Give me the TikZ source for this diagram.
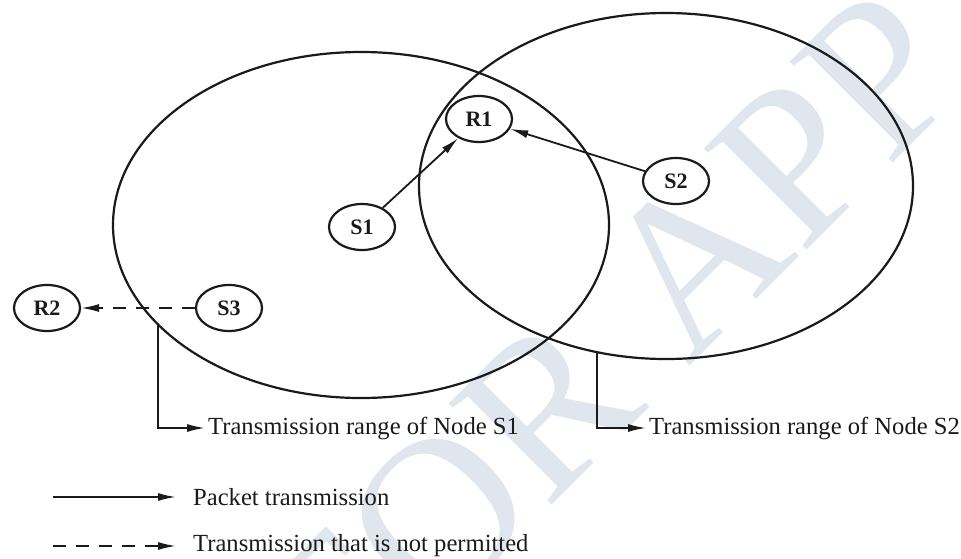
\documentclass[tikz,border=0pt]{standalone}
\usepackage{fontspec}
\setmainfont{Liberation Serif}
\usetikzlibrary{arrows.meta,shapes.geometric}
\definecolor{ink}{HTML}{1A1A1A}
\definecolor{wmark}{HTML}{E0E6ED}
\tikzset{
  rangeline/.style={draw=ink, line width=2.2pt},
  host/.style={ellipse, draw=ink, line width=2.2pt, minimum width=66pt, minimum height=46pt,
    inner sep=0pt, font=\fontsize{22}{22}\selectfont\bfseries, text=ink},
  tip/.style={-{Latex[length=18pt,width=8pt]}},
  pkt/.style={draw=ink, line width=1.8pt, tip},
  noperm/.style={draw=ink, line width=1.8pt, tip, dash pattern=on 13pt off 10pt},
  caption/.style={anchor=west, inner sep=0pt, text=ink, font=\fontsize{24.6}{24.6}\selectfont}
}
\begin{document}
\begin{tikzpicture}[x=1pt,y=-1pt]
\useasboundingbox (0,0) rectangle (961,558);
\fill[white] (0,0) rectangle (961,558);

% faint watermark across the sheet
\node[rotate=45, text=wmark, font=\fontsize{220}{220}\selectfont, inner sep=0pt] (wm) at (610,345) {FOR APP};

% transmission ranges
\draw[rangeline] (361,225) ellipse [x radius=248, y radius=173];
\draw[rangeline] (666,186) ellipse [x radius=247, y radius=173];

% hosts
\node[host] (R1) at (479,119) {R1};
\node[host] (S1) at (362,227) {S1};
\node[host] (S2) at (676,181) {S2};
\node[host] (R2) at (47,308) {R2};
\node[host] (S3) at (229,308) {S3};

% transmissions
\draw[pkt] (S1) -- (R1);
\draw[pkt] (S2) -- (R1);
\draw[noperm] (S3) -- (R2);

% range captions
\node[caption] (cap1) at (208,428) {Transmission range of Node S1};
\node[caption] (cap2) at (649,428) {Transmission range of Node S2};
\coordinate (edge1) at (158,323.0);
\coordinate (edge2) at (597,352.1);
\draw[pkt] (edge1) |- ([xshift=-3pt]cap1.west);
\draw[pkt] (edge2) |- ([xshift=-3pt]cap2.west);

% legend
\node[caption] (leg1) at (193,497) {Packet transmission};
\node[caption] (leg2) at (193,546) {Transmission that is not permitted};
\coordinate (leg1a) at (53,497);
\coordinate (leg1b) at (176,497);
\coordinate (leg2a) at (53,546);
\coordinate (leg2b) at (176,546);
\draw[pkt] (leg1a) -- (leg1b);
\draw[noperm] (leg2a) -- (leg2b);
\end{tikzpicture}
\end{document}
